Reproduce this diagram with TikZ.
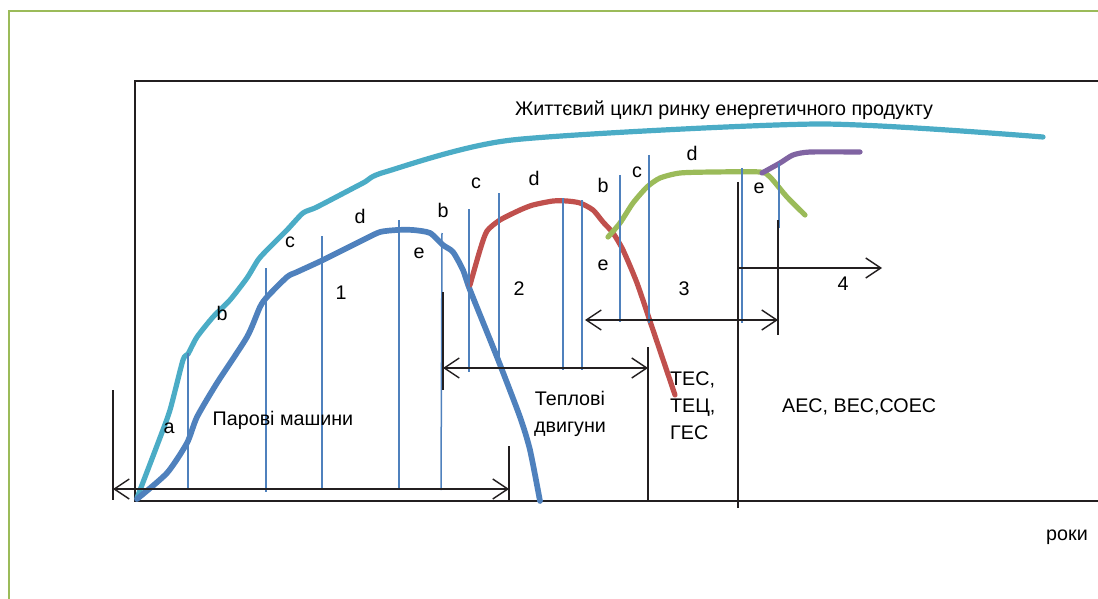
\documentclass[tikz,border=0pt]{standalone}
\usepackage{fontspec}
\setmainfont{Liberation Sans}
\usetikzlibrary{arrows.meta}
\definecolor{frameg}{HTML}{9BBB59}
\definecolor{cteal}{HTML}{4BACC6}
\definecolor{cblue}{HTML}{4F81BD}
\definecolor{cred}{HTML}{C0504D}
\definecolor{cgreen}{HTML}{9BBB59}
\definecolor{cpurple}{HTML}{8064A2}
\definecolor{ink}{HTML}{231F20}
\tikzset{
  curve/.style={line width=5.2pt,line cap=round,line join=round},
  tick/.style={cblue,line width=2pt},
  bar/.style={ink,line width=2.8pt},
  span/.style={ink,line width=1.4pt},
  tip/.style={-{Straight Barb[length=15pt,width=20pt,line width=1.4pt]}},
  both/.style={{Straight Barb[length=15pt,width=20pt,line width=1.4pt]}-{Straight Barb[length=15pt,width=20pt,line width=1.4pt]}},
  lbl/.style={font=\fontsize{19.7}{22}\selectfont,inner sep=0pt},
}
\begin{document}
\begin{tikzpicture}[x=1pt,y=-1pt]
\useasboundingbox (0,0) rectangle (1098,599);
% outer frame
\draw[frameg,line width=2pt] (8.5,600) -- (8.5,11) -- (1100,11);
% chart box
\draw[bar] (1100,81) -- (135,81) -- (135,501) -- (1100,501);
% curves
\draw[curve,cteal] plot[smooth,tension=0.4] coordinates {(137,498) (158,443) (170,410) (183,360) (188,354) (197,337) (213,317) (230,300) (247,278) (258,260) (267,250) (287,230) (303,213) (317,207) (363,183) (385,172) (512,140) (818,124) (1043,137)};
\draw[curve,cblue,line width=5.7pt] plot[smooth,tension=0.4] coordinates {(137,499) (167,473) (187,443) (197,417) (217,383) (247,337) (260,307) (267,297) (287,277) (297,272) (323,260) (363,240) (380,232) (397,230) (413,230) (430,233) (443,245) (453,252) (463,270) (470,290) (497,357) (520,417) (530,450) (540,501)};
\draw[curve,cred] plot[smooth,tension=0.4] coordinates {(470,285) (480,250) (487,231) (500,220) (520,210) (533,205) (553,201) (567,201) (580,203) (593,210) (603,222) (613,233) (623,250) (637,283) (653,330) (675,395)};
\draw[curve,cgreen] plot[smooth,tension=0.4] coordinates {(608,237) (620,223) (633,203) (647,187) (660,178) (680,173) (713,172) (760,172) (770,177) (787,197) (805,215)};
\draw[curve,cpurple] plot[smooth,tension=0.4] coordinates {(762,173) (780,163) (793,155) (810,152) (860,152)};
% thin blue phase lines
\draw[tick] (188,353) -- (188,490);
\draw[tick] (266,268) -- (266,492);
\draw[tick] (322,236) -- (322,490);
\draw[tick] (399,220) -- (399,490);
\draw[tick,line width=1.5pt] (442,233) -- (441,490);
\draw[tick] (469,209) -- (469,372);
\draw[tick] (499,193) -- (499,368);
\draw[tick] (563,198) -- (563,370);
\draw[tick] (582,200) -- (582,370);
\draw[tick] (620,175) -- (620,322);
\draw[tick] (649,155) -- (649,323);
\draw[tick] (742,168) -- (742,323);
\draw[tick] (779,163) -- (779,228);
% black bars
\draw[bar] (113,390) -- (113,500);
\draw[bar] (509,446) -- (509,502);
\draw[bar,line width=1.6pt] (443,292) -- (443,390);
\draw[bar] (648,347) -- (648,501);
\draw[bar] (738,182) -- (738,508);
\draw[bar] (778,220) -- (778,335);
% span arrows
\coordinate (s1a) at (113,489); \coordinate (s1b) at (509,489);
\coordinate (s2a) at (443,368); \coordinate (s2b) at (648,368);
\coordinate (s3a) at (585,320); \coordinate (s3b) at (778,320);
\coordinate (s4a) at (738,268); \coordinate (s4b) at (882,268);
\draw[span,both] (s1a) -- (s1b);
\draw[span,both] (s2a) -- (s2b);
\draw[span,both] (s3a) -- (s3b);
\draw[span,tip] (s4a) -- (s4b);
% labels
\node[lbl] (title) at (724,110) {Життєвий цикл ринку енергетичного продукту};
\node[lbl] (a1) at (169,428) {a};
\node[lbl] (b1) at (222,313) {b};
\node[lbl] (c1) at (290,242) {c};
\node[lbl] (d1) at (360,216) {d};
\node[lbl] (n1) at (341,293) {1};
\node[lbl] (e1) at (419,253) {e};
\node[lbl] (b2) at (443,210) {b};
\node[lbl] (c2) at (476,183) {c};
\node[lbl] (d2) at (534,178) {d};
\node[lbl] (n2) at (519,289) {2};
\node[lbl] (b3) at (603,185) {b};
\node[lbl] (c3) at (637,172) {c};
\node[lbl] (d3) at (692,153) {d};
\node[lbl] (e2) at (603,265) {e};
\node[lbl] (n3) at (684,289) {3};
\node[lbl] (e3) at (759,188) {e};
\node[lbl] (n4) at (843,284) {4};
\node[lbl] (steam) at (283,420) {Парові машини};
\node[lbl,align=center,font=\fontsize{19.7}{27}\selectfont] (heat) at (570,414) {Теплові\\двигуни};
\node[lbl,align=left,anchor=west,font=\fontsize{19.7}{27}\selectfont] (tes) at (670,406) {ТЕС,\\ТЕЦ,\\ГЕС};
\node[lbl,anchor=west] (aes) at (782,407) {АЕС, ВЕС,СОЕС};
\node[lbl] (years) at (1067,537) {роки};
\end{tikzpicture}
\end{document}
